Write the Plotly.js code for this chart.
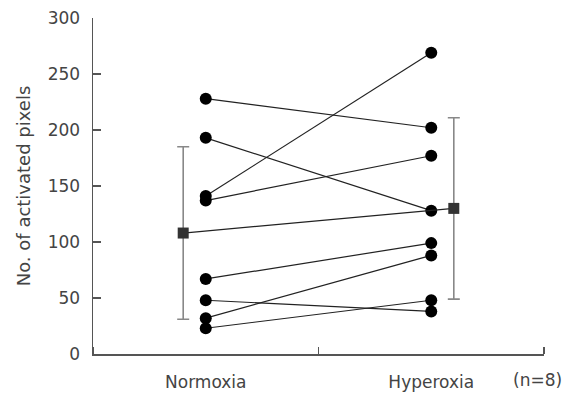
<!DOCTYPE html>
<html><head><meta charset="utf-8">
<script src="https://cdn.plot.ly/plotly-3.0.1.min.js"></script>
<style>html,body{margin:0;padding:0;background:#fff;}#c{width:566px;height:394px;}</style>
</head><body><div id="c"></div>
<script>
var conditions = ["Normoxia", "Hyperoxia"];
var normoxia = [228, 193, 141, 137, 67, 48, 32, 23];
var hyperoxia = [202, 128, 269, 177, 99, 38, 88, 48];
var meanValues = [108, 130];
var sdValues = [77, 81];
var yTicks = [0, 50, 100, 150, 200, 250, 300];
var sampleNote = "(n=8)";

var subjX = [0.5, 1.5];
var meanX = [0.4, 1.6];
var traces = [];
for (var i = 0; i < normoxia.length; i++) {
  traces.push({
    x: subjX, y: [normoxia[i], hyperoxia[i]], mode: 'lines+markers', type: 'scatter',
    line: {color: '#222', width: 1.2},
    marker: {symbol: 'circle', size: 12, color: '#000'},
    showlegend: false, hoverinfo: 'skip'
  });
}
traces.push({
  x: meanX, y: meanValues, mode: 'lines+markers', type: 'scatter',
  line: {color: '#222', width: 1.2},
  marker: {symbol: 'square', size: 11, color: '#333'},
  error_y: {type: 'data', array: sdValues, visible: true, color: '#888', thickness: 1.6, width: 6},
  showlegend: false, hoverinfo: 'skip'
});

var txt = '#444';
var layout = {
  width: 566, height: 394,
  margin: {l: 93, r: 22, t: 18, b: 40},
  paper_bgcolor: '#fff', plot_bgcolor: '#fff',
  font: {family: 'DejaVu Sans, sans-serif', size: 17, color: txt},
  showlegend: false,
  xaxis: {
    range: [0, 2], showgrid: false, zeroline: false,
    showline: true, linecolor: '#555', linewidth: 1.5,
    tickmode: 'array', tickvals: subjX, ticktext: conditions,
    ticks: '', ticklen: 0, ticklabelstandoff: 12, tickfont: {size: 17, color: txt},
    minor: {tickmode: 'array', tickvals: [0, 1, 2], ticks: 'inside', ticklen: 7, tickwidth: 1.3, tickcolor: '#555'}
  },
  yaxis: {
    range: [0, 300], showgrid: false, zeroline: false,
    showline: true, linecolor: '#555', linewidth: 1.5,
    tickmode: 'array', tickvals: yTicks,
    ticks: 'inside', ticklen: 8, tickwidth: 1.3, tickcolor: '#555',
    ticklabelstandoff: 8,
    tickfont: {size: 17, color: txt},
    title: {text: 'No. of activated pixels', font: {size: 18, color: txt}, standoff: 12}
  },
  annotations: [{
    text: sampleNote, xref: 'paper', yref: 'paper', x: 1.045, y: 0, yshift: -26,
    xanchor: 'right', yanchor: 'middle', showarrow: false, font: {size: 17, color: txt}
  }]
};
Plotly.newPlot('c', traces, layout, {displayModeBar: false, staticPlot: true});
</script>
</body></html>
